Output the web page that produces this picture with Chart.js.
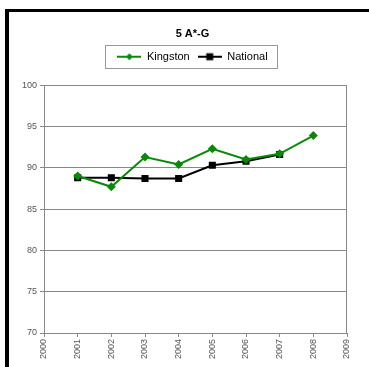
<!DOCTYPE html>
<html lang="en">
<head>
    <meta charset="UTF-8">
    <title>5 A*-G</title>
    <script src="https://cdn.jsdelivr.net/npm/chart.js@4.4.0/dist/chart.umd.min.js"></script>
    <style>
        html, body { margin: 0; padding: 0; background: #fff; overflow: hidden; }
        #wrap { position: relative; width: 369px; height: 367px; }
        #myChart { position: absolute; left: 0; top: 0; }
        /* the outer chart frame, cut off on the right and bottom */
        .frame {
            position: absolute; left: 5px; top: 9px; width: 420px; height: 420px;
            border-left: 4px solid #000; border-top: 3px solid #000;
            pointer-events: none;
        }
    </style>
</head>
<body>
    <div id="wrap">
        <canvas id="myChart" width="369" height="367"></canvas>
        <div class="frame"></div>
    </div>
    <script>
        // years on the x axis
        const years = ['2000', '2001', '2002', '2003', '2004', '2005', '2006', '2007', '2008', '2009'];
        // values (null = no point)
        const kingston = [null, 89.0, 87.7, 91.3, 90.4, 92.3, 91.0, 91.7, 93.9, null];
        const national = [null, 88.8, 88.8, 88.7, 88.7, 90.3, 90.8, 91.6, null, null];
        const yTicks = { min: 70, max: 100, step: 5 };

        const green = '#088a08';

        // small line + marker picture for the legend
        function legendIcon(color, shape) {
            const c = document.createElement('canvas');
            c.width = 24; c.height = 10;
            const g = c.getContext('2d');
            g.strokeStyle = color; g.lineWidth = 2;
            g.beginPath(); g.moveTo(0, 5); g.lineTo(24, 5); g.stroke();
            g.fillStyle = color;
            if (shape === 'diamond') {
                g.beginPath(); g.moveTo(12, 1.5); g.lineTo(15.5, 5); g.lineTo(12, 8.5); g.lineTo(8.5, 5); g.closePath(); g.fill();
            } else {
                g.fillRect(8.5, 1.5, 7, 7);
            }
            return c;
        }
        const icons = [legendIcon(green, 'diamond'), legendIcon('#000', 'square')];

        // legend needs a border and some room below it
        const legendBox = {
            id: 'legendBox',
            beforeInit(chart) {
                const lg = chart.legend;
                const origFit = lg.fit;
                lg.fit = function () {
                    origFit.call(this);
                    this.height = 42;
                };
            },
            afterDraw(chart) {
                const boxes = chart.legend.legendHitBoxes;
                if (!boxes || !boxes.length) return;
                let l = Infinity, r = -Infinity, t = Infinity, b = -Infinity;
                boxes.forEach(h => {
                    l = Math.min(l, h.left); r = Math.max(r, h.left + h.width);
                    t = Math.min(t, h.top); b = Math.max(b, h.top + h.height);
                });
                const ctx = chart.ctx;
                ctx.save();
                ctx.strokeStyle = '#999';
                ctx.lineWidth = 1;
                ctx.strokeRect(Math.round(l - 12) + 0.5, Math.round(t - 6) + 0.5, Math.round(r - l + 22), Math.round(b - t + 12));
                ctx.restore();
            }
        };

        // gray box around the plot area
        const plotBorder = {
            id: 'plotBorder',
            afterDatasetsDraw(chart) {
                const a = chart.chartArea;
                const ctx = chart.ctx;
                ctx.save();
                ctx.strokeStyle = '#888';
                ctx.lineWidth = 1;
                ctx.beginPath();
                ctx.moveTo(Math.round(a.left) + 0.5, Math.round(a.top) + 0.5);
                ctx.lineTo(Math.round(a.right) - 0.5, Math.round(a.top) + 0.5);
                ctx.lineTo(Math.round(a.right) - 0.5, Math.round(a.bottom) + 0.5);
                ctx.stroke();
                ctx.restore();
            }
        };

        Chart.defaults.font.family = "'Liberation Sans', Arial, sans-serif";

        const ctx = document.getElementById('myChart').getContext('2d');
        const myChart = new Chart(ctx, {
            type: 'line',
            data: {
                labels: years,
                datasets: [
                    {
                        label: 'Kingston',
                        data: kingston,
                        borderColor: green,
                        backgroundColor: green,
                        borderWidth: 2,
                        pointStyle: 'rectRot',
                        pointRadius: 4.5,
                        pointBorderWidth: 0,
                        tension: 0
                    },
                    {
                        label: 'National',
                        data: national,
                        borderColor: '#000',
                        backgroundColor: '#000',
                        borderWidth: 2,
                        pointStyle: 'rect',
                        pointRadius: 5,
                        pointBorderWidth: 0,
                        tension: 0
                    }
                ]
            },
            options: {
                responsive: false,
                animation: false,
                layout: { padding: { left: 16, right: 0, top: 0, bottom: 0 } },
                scales: {
                    x: {
                        offset: false,
                        grid: { drawOnChartArea: false, drawTicks: true, tickLength: 4, color: '#888' },
                        border: { color: '#888' },
                        ticks: {
                            autoSkip: false, minRotation: 90, maxRotation: 90,
                            font: { size: 9 }, color: '#555', padding: 2
                        },
                        afterFit(scale) { scale.height = 34; }
                    },
                    y: {
                        min: yTicks.min,
                        max: yTicks.max,
                        grid: { color: '#888', tickLength: 4 },
                        border: { color: '#888' },
                        ticks: { stepSize: yTicks.step, font: { size: 9 }, color: '#555', padding: 3 },
                        afterFit(scale) { scale.width = 28; }
                    },
                    // empty strip on the right so the title centres like the original
                    yRight: {
                        position: 'right',
                        display: true,
                        min: yTicks.min,
                        max: yTicks.max,
                        grid: { display: false },
                        border: { display: false },
                        ticks: { display: false },
                        afterFit(scale) { scale.width = 22; }
                    }
                },
                plugins: {
                    title: {
                        display: true,
                        text: '5 A*-G',
                        color: '#000',
                        font: { size: 11, weight: 'bold' },
                        padding: { top: 27, bottom: 3 }
                    },
                    legend: {
                        display: true,
                        labels: {
                            color: '#000',
                            font: { size: 11 },
                            usePointStyle: true,
                            pointStyleWidth: 24,
                            padding: 8,
                            generateLabels(chart) {
                                return chart.data.datasets.map((ds, i) => ({
                                    text: ds.label,
                                    pointStyle: icons[i],
                                    fillStyle: ds.borderColor,
                                    strokeStyle: ds.borderColor,
                                    lineWidth: 0,
                                    datasetIndex: i,
                                    hidden: false
                                }));
                            }
                        }
                    },
                    tooltip: { enabled: false }
                }
            },
            plugins: [legendBox, plotBorder]
        });
    </script>
</body>
</html>
